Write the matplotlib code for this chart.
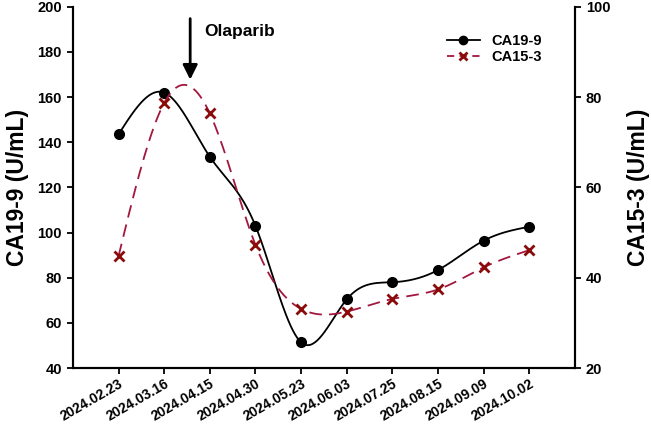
import matplotlib
matplotlib.use('Agg')
import matplotlib.pyplot as plt
import numpy as np
from matplotlib.lines import Line2D

plt.rcParams['font.family'] = ['Liberation Sans', 'DejaVu Sans']

dates = ['2024.02.23', '2024.03.16', '2024.04.15', '2024.04.30', '2024.05.23',
         '2024.06.03', '2024.07.25', '2024.08.15', '2024.09.09', '2024.10.02']
ca199 = [143.5, 162, 133.6, 103, 51.4, 70.4, 78, 83.4, 96.4, 102.6]
ca153 = [44.8, 78.7, 76.4, 47.3, 33.1, 32.5, 35.3, 37.4, 42.3, 46.1]


def spline(x, y, n=40):
    # natural cubic spline, just for drawing the smooth line
    x = np.asarray(x, float)
    y = np.asarray(y, float)
    k = len(x)
    h = np.diff(x)
    A = np.zeros((k, k))
    b = np.zeros(k)
    A[0, 0] = 1
    A[-1, -1] = 1
    for i in range(1, k - 1):
        A[i, i - 1] = h[i - 1]
        A[i, i] = 2 * (h[i - 1] + h[i])
        A[i, i + 1] = h[i]
        b[i] = 3 * ((y[i + 1] - y[i]) / h[i] - (y[i] - y[i - 1]) / h[i - 1])
    c = np.linalg.solve(A, b)
    xs, ys = [], []
    for i in range(k - 1):
        bb = (y[i + 1] - y[i]) / h[i] - h[i] * (2 * c[i] + c[i + 1]) / 3
        d = (c[i + 1] - c[i]) / (3 * h[i])
        t = np.linspace(0, h[i], n)
        xs.append(x[i] + t)
        ys.append(y[i] + bb * t + c[i] * t ** 2 + d * t ** 3)
    return np.concatenate(xs), np.concatenate(ys)


x = np.arange(len(dates))
red_line = '#A3173F'
red_mark = '#8B0A0A'

fig = plt.figure(figsize=(6.51, 4.25), dpi=100)
ax = fig.add_axes([0.112, 0.134, 0.771, 0.850])
ax2 = ax.twinx()

sx, sy = spline(x, ca199)
ax.plot(sx, sy, color='black', lw=1.3, zorder=3)
ax.plot(x, ca199, 'o', color='black', ms=7, zorder=4)

tx, ty = spline(x, ca153)
ax2.plot(tx, ty, color=red_line, lw=1.3, ls=(0, (7, 4)), zorder=3)
ax2.plot(x, ca153, 'x', color=red_mark, ms=7, mew=2, zorder=4)

ax.set_xlim(-1, 10)
ax.set_ylim(40, 200)
ax2.set_ylim(20, 100)
ax.set_yticks(np.arange(40, 201, 20))
ax2.set_yticks(np.arange(20, 101, 20))
ax.set_xticks(x)
ax.set_xticklabels(dates, rotation=30, ha='right', rotation_mode='anchor',
                   fontsize=10, fontweight='bold')
ax.tick_params(axis='x', pad=1.5)
for lab in ax.get_yticklabels():
    lab.set_fontweight('bold')
    lab.set_fontsize(10.5)
for lab in ax2.get_yticklabels():
    lab.set_fontweight('bold')
    lab.set_fontsize(10.5)

for a in (ax, ax2):
    a.spines['top'].set_visible(False)
    for s in ('left', 'right', 'bottom'):
        a.spines[s].set_linewidth(1.5)
    a.tick_params(width=1.3, length=4.5, direction='out')

ax.set_ylabel('CA19-9 (U/mL)', fontsize=16.5, fontweight='bold', labelpad=6)
ax2.set_ylabel('CA15-3 (U/mL)', fontsize=16.5, fontweight='bold', labelpad=12)

ax.annotate('', xy=(1.57, 166.5), xytext=(1.57, 196),
            arrowprops=dict(arrowstyle='-|>', color='black', lw=2,
                            mutation_scale=22))
ax.text(1.88, 189, 'Olaparib', fontsize=12.5, fontweight='bold', va='center')

handles = [Line2D([], [], color='black', marker='o', lw=1.3, ms=6),
           Line2D([], [], color=red_line, marker='x', lw=1.3, ls=(0, (4, 3)),
                  ms=6, mew=2, markeredgecolor=red_mark)]
leg = ax.legend(handles, ['CA19-9', 'CA15-3'], loc='upper left',
                bbox_to_anchor=(0.72, 0.96), frameon=False,
                handlelength=2.2, handletextpad=0.8, labelspacing=0.1,
                prop={'weight': 'bold', 'size': 10.5})

fig.savefig('out.png', dpi=100)
